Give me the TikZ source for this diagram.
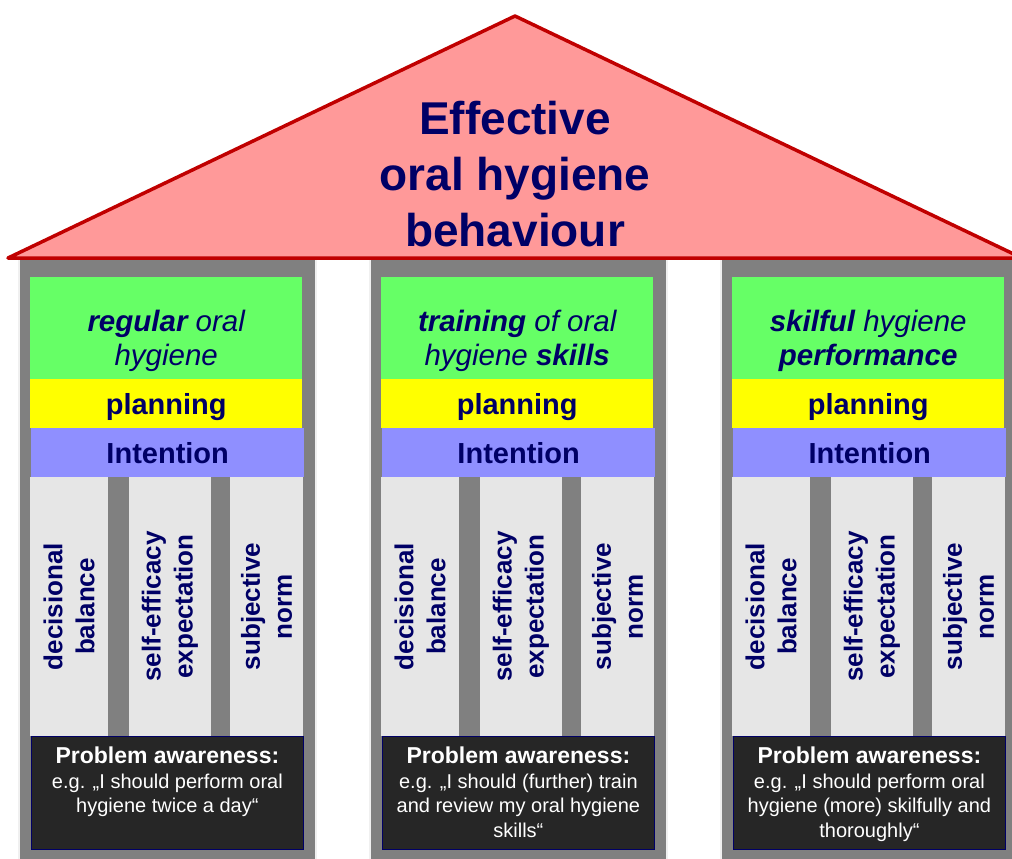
\documentclass[tikz,border=0pt]{standalone}
\usepackage{fontspec}
\setmainfont{Liberation Sans}
\usetikzlibrary{positioning}

\definecolor{roofpink}{HTML}{FF9999}
\definecolor{roofred}{HTML}{C00000}
\definecolor{pillargray}{HTML}{808080}
\definecolor{goalgreen}{HTML}{66FF66}
\definecolor{planyellow}{HTML}{FFFF00}
\definecolor{intentblue}{HTML}{8F8FFF}
\definecolor{cellgray}{HTML}{E6E6E6}
\definecolor{awaredark}{HTML}{262626}
\definecolor{navy}{HTML}{000066}

% one pillar: #1 index, #2 goal text, #3 example sentence
\newcommand{\onepillar}[3]{%
  \begin{scope}[xshift=#1*351]
    \node[pillar] (pillar#1) at (18,258) {};
    \node[goal] (goal#1) at (30,277) {};
    \node[goaltext, below=33pt of goal#1.north] (goaltxt#1) {#2};
    \node[plan] (plan#1) at (30,379) {planning};
    \node[intent] (intent#1) at (31,428) {Intention};
    \node[cell, minimum height=78pt] (bal#1) at (69,606.5) {decisional\\balance};
    \node[cell, minimum height=82pt] (eff#1) at (170,606.5) {self-efficacy\\expectation};
    \node[cell, minimum height=73pt] (norm#1) at (266.5,606.5) {subjective\\norm};
    \node[aware] (aware#1) at (31,736) {};
    \node[awaretext, below=11pt of aware#1.north] (awtxt#1)
      {{\fontsize{23}{25}\selectfont\bfseries Problem awareness:}\\#3};
  \end{scope}}

\begin{document}
\begin{tikzpicture}[x=1pt, y=-1pt,
  roof/.style={fill=roofpink, draw=roofred, line width=3.5pt, line join=round},
  pillar/.style={fill=pillargray, draw=black!6, line width=2pt, anchor=north west, minimum width=297pt, minimum height=620pt, inner sep=0},
  goal/.style={fill=goalgreen, anchor=north west, minimum width=272pt, minimum height=102pt, inner sep=0},
  goaltext/.style={align=center, inner sep=0, text=navy, font=\fontsize{29.5}{34}\selectfont\itshape},
  plan/.style={fill=planyellow, anchor=north west, minimum width=272pt, minimum height=49pt, inner sep=0, text depth=0pt, text=navy, font=\fontsize{29}{34}\selectfont\bfseries},
  intent/.style={plan, fill=intentblue, minimum width=273pt},
  cell/.style={fill=cellgray, rotate=90, minimum width=259pt, inner sep=0, align=center, text=navy, font=\fontsize{26}{32}\selectfont\bfseries},
  aware/.style={fill=awaredark, draw=navy, line width=0.8pt, anchor=north west, minimum width=272pt, minimum height=113pt, inner sep=0},
  awaretext/.style={align=center, inner sep=0, text=white, font=\fontsize{20}{24.5}\selectfont},
  headline/.style={align=center, inner sep=0, text=navy, font=\fontsize{46}{56}\selectfont\bfseries}
]
\useasboundingbox (0,0) rectangle (1012,859);
\clip (0,0) rectangle (1012,859);

% the three pillars
\onepillar{0}{\textbf{regular} oral\\hygiene}
  {e.g. „I should perform oral\\hygiene twice a day“}
\onepillar{1}{\textbf{training} of oral\\hygiene \textbf{skills}}
  {e.g. „I should (further) train\\and review my oral hygiene\\skills“}
\onepillar{2}{\textbf{skilful} hygiene\\\textbf{performance}}
  {e.g. „I should perform oral\\hygiene (more) skilfully and\\thoroughly“}

% roof on top
\coordinate (eaveL) at (8,258);
\coordinate (apex) at (515,16);
\coordinate (eaveR) at (1022,258);
\draw[roof] (eaveL) -- (apex) -- (eaveR) -- cycle;
\node[headline, below=85pt of apex] (title) {Effective\\oral hygiene\\behaviour};
\end{tikzpicture}
\end{document}
